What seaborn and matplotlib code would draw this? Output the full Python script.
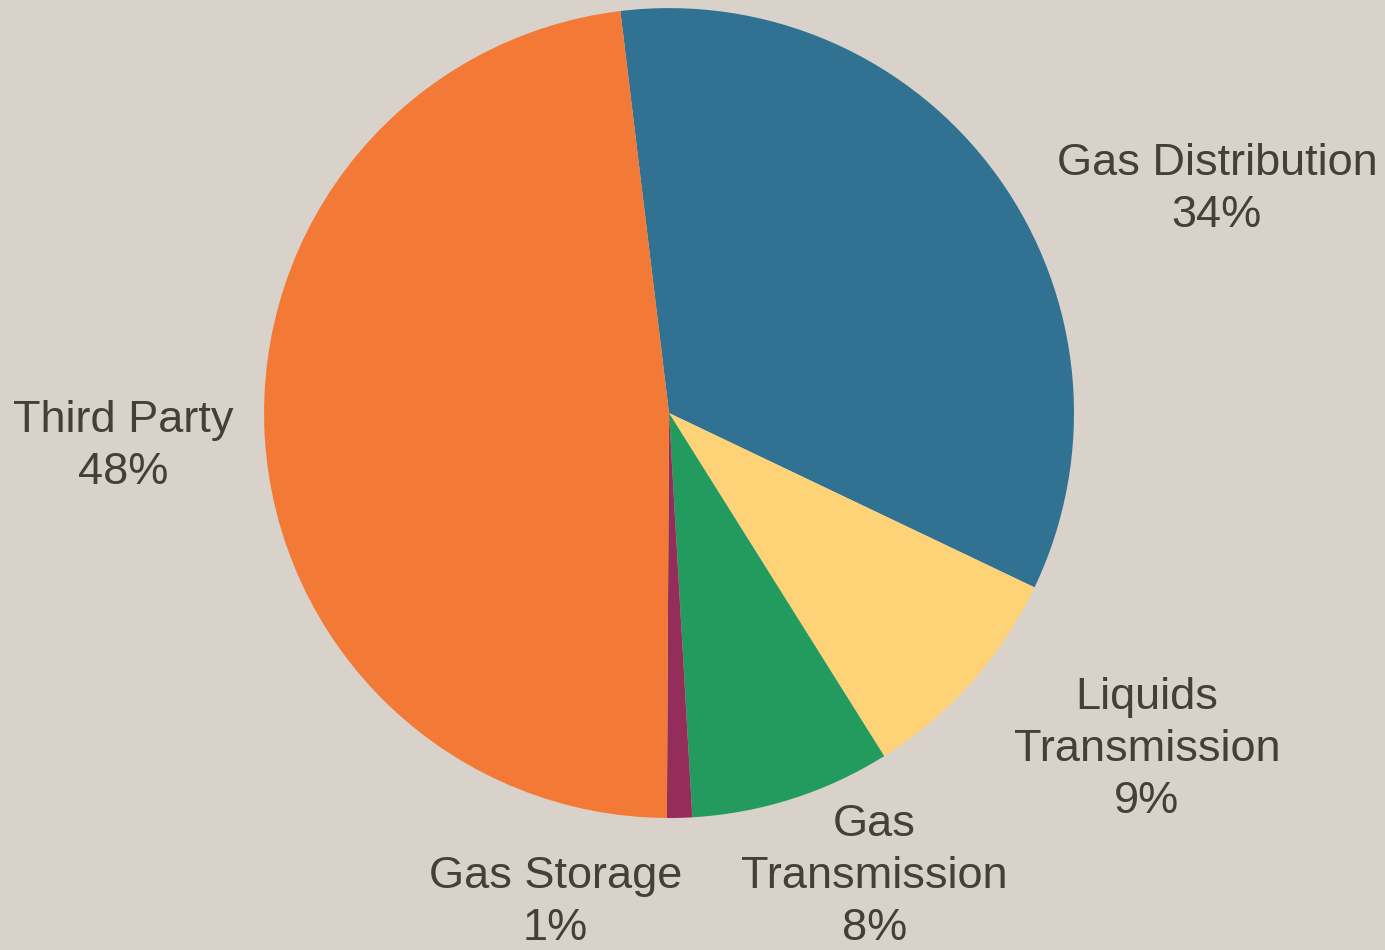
import matplotlib
matplotlib.use("Agg")
import matplotlib.pyplot as plt
import seaborn as sns

# segment data, clockwise from the top
segments = ["Gas Distribution", "Liquids Transmission", "Gas Transmission", "Gas Storage", "Third Party"]
shares = [34, 9, 8, 1, 48]
label_text = ["Gas Distribution\n34%", "Liquids\nTransmission\n9%", "Gas\nTransmission\n8%",
              "Gas Storage\n1%", "Third Party\n48%"]
colors = ["#317293", "#FED378", "#249B5E", "#952D5A", "#F37A36"]

# label positions in pie-radius units (layout only)
label_pos = [(1.353, 0.552), (1.180, -0.830), (0.507, -1.144), (-0.281, -1.208), (-1.348, -0.083)]

BG = "#D9D2CB"
TEXT = "#453E39"

sns.set_theme(style="white")
plt.rcParams["font.family"] = ["Liberation Sans", "DejaVu Sans"]

fig = plt.figure(figsize=(13.85, 9.5), dpi=100, facecolor=BG)
ax = fig.add_axes([0, 0, 1, 1])
ax.set_facecolor(BG)

ax.pie(shares, colors=sns.color_palette(colors), startangle=96.9, counterclock=False,
       radius=1.0, wedgeprops=dict(linewidth=0))

for txt, (x, y) in zip(label_text, label_pos):
    ax.text(x, y, txt, ha="center", va="center", multialignment="center",
            fontsize=32.5, color=TEXT, linespacing=1.34)

ax.set_xlim(-1.652, 1.768)
ax.set_ylim(-1.326, 1.020)
ax.set_aspect("auto")
ax.axis("off")

fig.savefig("out.png", dpi=100, facecolor=BG)
